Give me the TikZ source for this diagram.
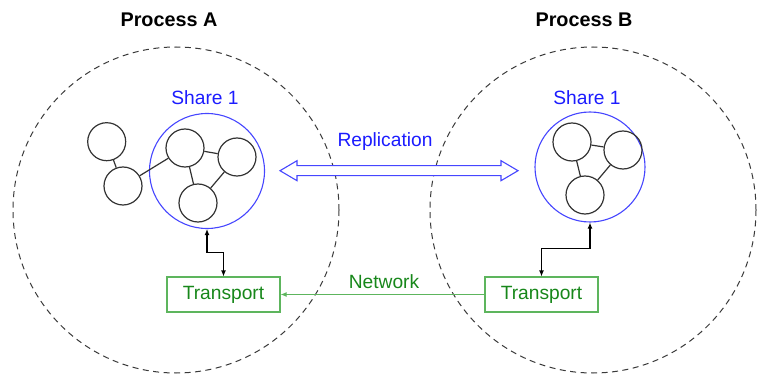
\documentclass[tikz,border=0pt]{standalone}
\usepackage{fontspec}
\setmainfont{Liberation Sans}
\usepackage{tikz}
\usetikzlibrary{arrows.meta,calc,positioning}
\definecolor{ShareBlue}{HTML}{1C1CFF}
\definecolor{RingBlue}{HTML}{4646FF}
\definecolor{NetGreen}{HTML}{17871A}
\definecolor{BoxGreen}{HTML}{5DB55D}
\definecolor{BallGray}{HTML}{333333}
\definecolor{DashGray}{HTML}{3A3A3A}

\begin{document}
\begin{tikzpicture}[x=1pt,y=-1pt,
    procring/.style={draw=DashGray,line width=1pt,dash pattern=on 6pt off 4.5pt},
    sharering/.style={circle,draw=RingBlue,line width=1.1pt,minimum size=#1,inner sep=0},
    ball/.style={circle,draw=BallGray,line width=1.2pt,minimum size=38,inner sep=0},
    txt/.style={anchor=base,font=\fontsize{19.2}{22}\selectfont},
    title/.style={anchor=base,font=\fontsize{19.8}{22}\selectfont\bfseries},
    transbox/.style={draw=BoxGreen,text=NetGreen,line width=1.1pt,minimum width=113,
      minimum height=35,inner sep=0,font=\fontsize{19.2}{22}\selectfont},
    link/.style={black,line width=1.1pt,{Latex[length=6pt,width=5pt]}-{Latex[length=6pt,width=5pt]}},
    net/.style={BoxGreen,line width=1.1pt,-{Latex[length=6pt,width=5pt]}}]
  \useasboundingbox (0,0) rectangle (763,374);
  % the two processes
  \draw[procring] (176,210) circle[radius=163];
  \draw[procring] (593,210) circle[radius=163];
  \node[title] (titleA) at (169,26.7) {Process A};
  \node[title] (titleB) at (584,26.7) {Process B};

  % share in process A
  \node[sharering=115] (shareA) at (207,171) {};
  \node[txt,ShareBlue] (lblA) at (205,105) {Share 1};
  \node[ball] (a1) at (106.7,141.7) {};
  \node[ball] (a2) at (123,186) {};
  \node[ball] (a3) at (185,148) {};
  \node[ball] (a4) at (237,157) {};
  \node[ball] (a5) at (198,203) {};
  \foreach \u/\v in {a1/a2,a2/a3,a3/a4,a3/a5,a4/a5}
    \draw[BallGray,line width=1.2pt] (\u) -- (\v);

  % share in process B
  \node[sharering=110] (shareB) at (590,167) {};
  \node[txt,ShareBlue] (lblB) at (587,105) {Share 1};
  \node[ball] (b1) at (572,142) {};
  \node[ball] (b2) at (623,150) {};
  \node[ball] (b3) at (585,195) {};
  \foreach \u/\v in {b1/b2,b1/b3,b2/b3}
    \draw[BallGray,line width=1.2pt] (\u) -- (\v);

  % replication
  \draw[RingBlue,line width=1.1pt,fill=white] (280,170.7) -- ++(17,-10) -- ++(0,5)
    -- (501,165.7) -- ++(0,-5) -- (518,170.7) -- ++(-17,10) -- ++(0,-5)
    -- (297,175.7) -- ++(0,5) -- cycle;
  \node[txt,ShareBlue] (repl) at (385,147) {Replication};

  % transports
  \node[transbox] (transA) at (223.5,294.5) {Transport};
  \node[transbox] (transB) at (541.5,294.5) {Transport};
  \draw[link] (transA.north) -- ++(0,-24) -| (shareA.south);
  \draw[link] (transB.north) -- ++(0,-28) -| (shareB.south);
  \draw[net] (transB) -- (transA);
  \node[txt,NetGreen] (netlbl) at (384,288) {Network};
\end{tikzpicture}
\end{document}
